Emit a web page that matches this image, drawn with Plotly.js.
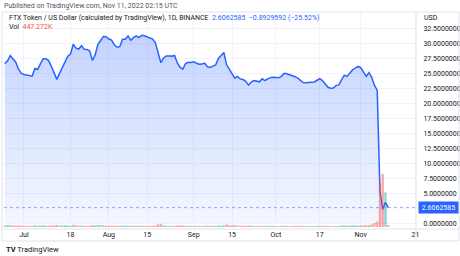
<!DOCTYPE html>
<html>
<head>
<meta charset="utf-8">
<script src="https://cdn.plot.ly/plotly-3.0.1.min.js"></script>
<style>html,body{margin:0;padding:0;background:#fff;}#chart{width:460px;height:256px;}</style>
</head>
<body>
<div id="chart"></div>
<script>
// First trading day shown, then one close per day
const startDate = '2022-06-24';
const closes = [
 26.58,27.08,27.93,27.32,26.83,25.67,25.02,
 24.80,24.72,24.68,24.52,25.80,25.63,26.55,27.43,27.43,27.10,26.15,25.05,23.98,24.97,25.90,27.08,27.83,28.18,29.83,29.17,29.03,29.58,29.00,28.97,28.70,27.12,28.05,29.80,30.55,31.10,31.08,
 30.70,30.52,29.73,29.33,29.42,30.65,30.67,31.20,30.47,30.92,31.23,30.93,31.32,31.25,31.08,31.00,30.70,30.07,28.38,26.75,27.55,27.88,27.88,27.85,27.97,26.72,26.00,25.67,26.60,26.83,26.80,
 26.92,26.67,26.50,26.52,26.67,26.07,25.97,26.18,26.38,27.47,27.92,28.45,26.40,25.70,25.05,24.17,24.48,24.05,23.95,23.65,23.02,23.52,23.77,23.73,23.57,24.07,23.78,24.05,24.27,24.32,
 24.32,24.23,24.48,24.98,24.92,24.78,24.65,24.42,24.18,23.77,23.45,23.40,23.50,23.50,23.55,23.87,24.08,23.77,23.10,22.65,22.50,22.55,22.98,23.05,23.93,24.67,24.47,25.03,25.55,25.87,26.13,
 25.95,25.17,24.47,25.10,24.33,22.97,22.18,5.40,2.33,3.4992177,2.6062585
];
const volumes = [
 0.35,0.40,0.45,0.35,0.30,0.40,0.35,
 0.30,0.25,0.25,0.30,0.40,0.30,0.35,0.40,0.30,0.30,0.35,0.40,0.45,0.35,0.35,0.40,0.35,0.30,0.50,0.40,0.30,0.35,0.30,0.25,0.30,0.45,0.35,0.45,0.40,0.35,0.30,
 0.30,0.30,0.35,0.30,0.25,0.35,0.30,0.35,0.30,0.30,0.30,0.30,0.30,0.25,0.25,0.25,0.30,0.35,0.60,0.70,0.40,0.30,0.25,0.25,0.25,0.40,0.35,0.35,0.30,0.25,0.25,
 0.25,0.25,0.25,0.25,0.25,0.30,0.30,0.25,0.25,0.35,0.30,0.40,0.60,0.40,0.40,0.45,0.30,0.30,0.30,0.30,0.40,0.30,0.25,0.25,0.25,0.25,0.25,0.25,0.25,0.25,
 0.20,0.20,0.25,0.30,0.25,0.20,0.20,0.25,0.25,0.30,0.25,0.20,0.20,0.20,0.20,0.25,0.25,0.25,0.30,0.25,0.20,0.20,0.25,0.20,0.35,0.40,0.30,0.35,0.40,0.35,0.35,
 0.35,0.40,0.40,0.45,0.60,0.90,1.20,10.0,11.8,7.7,0.447272
];
const tickDates = ['2022-07-01','2022-07-18','2022-08-01','2022-08-15','2022-09-01','2022-09-15','2022-10-01','2022-10-17','2022-11-01','2022-11-21'];
const tickLabels = ['Jul','18','Aug','15','Sep','15','Oct','17','Nov','21'];
const priceTicks = [0,5,7.5,10,12.5,15,17.5,20,22.5,25,27.5,30,32.5];
const lastPrice = 2.6062585;
const headerText = 'FTX Token / US Dollar (calculated by TradingView), 1D, BINANCE';
const changeText = '2.6062585  −0.8929592 (−25.52%)';
const volText = '447.272K';

const dates = closes.map((_, i) => {
  const d = new Date(startDate + 'T00:00:00Z');
  d.setUTCDate(d.getUTCDate() + i);
  return d.toISOString().slice(0, 10);
});
const volColors = closes.map((c, i) => (i === 0 || c >= closes[i - 1]) ? 'rgba(38,166,154,0.5)' : 'rgba(239,83,80,0.5)');

const BLUE = '#2962ff';
const FONT = 'Roboto, Arial, sans-serif';
const TXT = '#131722';
const GRID = '#f0f3fa';
const BORDER = '#e0e3eb';

const traces = [
  {
    x: dates, y: volumes, type: 'bar', yaxis: 'y2',
    marker: {color: volColors, line: {width: 0}},
    hoverinfo: 'skip'
  },
  {
    x: dates, y: closes, type: 'scatter', mode: 'lines',
    line: {color: BLUE, width: 1.5},
    fill: 'tozeroy',
    fillgradient: {type: 'vertical', start: 0, stop: 32,
      colorscale: [[0, 'rgba(41,98,255,0.05)'], [1, 'rgba(41,98,255,0.28)']]},
    hoverinfo: 'skip'
  }
];

// plot area: x 4..416, y 12..229
const px = v => (v - 4) / 412;
const py = v => (229 - v) / 217;

const layout = {
  width: 460, height: 256,
  margin: {l: 4, r: 44, t: 12, b: 27, pad: 0},
  paper_bgcolor: '#ffffff', plot_bgcolor: '#ffffff',
  showlegend: false,
  bargap: 0.15,
  font: {family: FONT, size: 7, color: TXT},
  xaxis: {
    type: 'date',
    range: ['2022-06-23 17:00', '2022-11-21 04:00'],
    tickvals: tickDates, ticktext: tickLabels,
    showgrid: true, gridcolor: GRID, gridwidth: 1,
    zeroline: false, showline: false, ticks: '',
    tickfont: {family: FONT, size: 7, color: TXT},
    fixedrange: true
  },
  yaxis: {
    side: 'right',
    range: [-0.95, 35.2],
    tickvals: priceTicks,
    tickformat: '.7f',
    showgrid: true, gridcolor: GRID, gridwidth: 1,
    zeroline: false, showline: false,
    ticks: 'outside', ticklen: 5, tickcolor: 'rgba(0,0,0,0)',
    tickfont: {family: FONT, size: 7, color: TXT},
    fixedrange: true
  },
  yaxis2: {
    overlaying: 'y',
    range: [-0.45, 47.9],
    showgrid: false, zeroline: false, showticklabels: false, showline: false, ticks: '',
    fixedrange: true
  },
  shapes: [
    {type: 'rect', xref: 'paper', yref: 'paper', x0: px(2), x1: px(459), y0: py(241), y1: py(12),
      line: {color: BORDER, width: 1}, fillcolor: 'rgba(0,0,0,0)', layer: 'above'},
    {type: 'line', xref: 'paper', yref: 'paper', x0: px(416), x1: px(416), y0: py(241), y1: py(12),
      line: {color: BORDER, width: 1}},
    {type: 'line', xref: 'paper', yref: 'paper', x0: px(2), x1: px(459), y0: py(229), y1: py(229),
      line: {color: BORDER, width: 1}},
    {type: 'line', xref: 'paper', yref: 'y', x0: 0, x1: 1, y0: lastPrice, y1: lastPrice,
      line: {color: 'rgba(41,98,255,0.55)', width: 1, dash: 'dot'}}
  ],
  annotations: [
    {xref: 'paper', yref: 'paper', x: px(2), y: py(6), xanchor: 'left', yanchor: 'middle', showarrow: false,
      text: 'Published on TradingView.com, Nov 11, 2022 02:15 UTC', font: {family: FONT, size: 7, color: '#50535e'}},
    {xref: 'paper', yref: 'paper', x: px(7), y: py(18), xanchor: 'left', yanchor: 'middle', showarrow: false,
      text: headerText + '  <span style="color:' + BLUE + '">' + changeText + '</span>',
      font: {family: FONT, size: 7, color: TXT}},
    {xref: 'paper', yref: 'paper', x: px(7), y: py(26.5), xanchor: 'left', yanchor: 'middle', showarrow: false,
      text: 'Vol  <span style="color:#ef5350">' + volText + '</span>',
      font: {family: FONT, size: 7, color: TXT}},
    {xref: 'paper', yref: 'paper', x: px(422), y: py(18), xanchor: 'left', yanchor: 'middle', showarrow: false,
      text: 'USD', font: {family: FONT, size: 7, color: TXT}},
    {xref: 'paper', yref: 'y', x: px(418), y: lastPrice, xanchor: 'left', yanchor: 'middle', showarrow: false,
      text: lastPrice.toFixed(7), bgcolor: BLUE, borderpad: 1.5, width: 36,
      font: {family: FONT, size: 7, color: '#ffffff'}},
    {xref: 'paper', yref: 'paper', x: px(4), y: py(249), xanchor: 'left', yanchor: 'middle', showarrow: false,
      text: '<b>TV</b> TradingView', font: {family: FONT, size: 7.5, color: '#131722'}}
  ]
};

Plotly.newPlot('chart', traces, layout, {staticPlot: true, displayModeBar: false});
</script>
</body>
</html>
